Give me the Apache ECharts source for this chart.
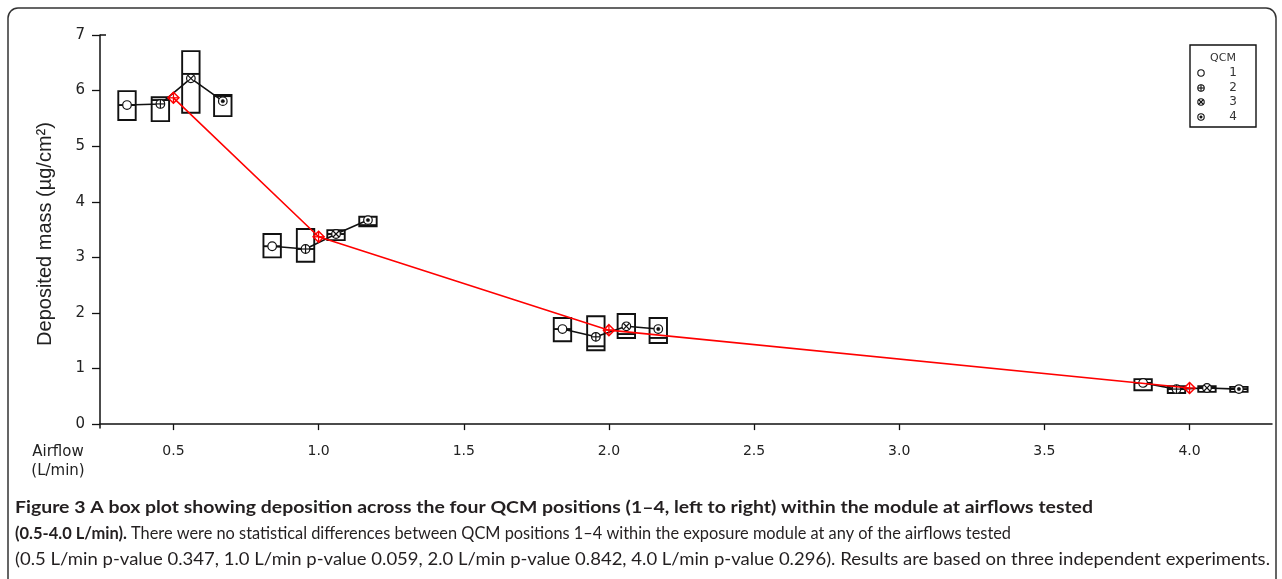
<!DOCTYPE html>
<html><head><meta charset="utf-8">
<script src="https://cdn.jsdelivr.net/npm/echarts@6/dist/echarts.min.js"></script>
<style>html,body{margin:0;padding:0;background:#fff}#c{width:1282px;height:579px}</style>
</head><body><div id="c"></div>
<script>
// ---- data ----
const airflows = [0.5, 1.0, 2.0, 4.0];
const qcmNames = ['1', '2', '3', '4'];
const qcmOffset = [-0.16, -0.045, 0.06, 0.17];
// rows: airflow 0.5, 1.0, 2.0, 4.0 ; columns: QCM 1..4
const q1Values = [
  [5.47, 5.45, 5.60, 5.54],
  [3.00, 2.92, 3.31, 3.56],
  [1.49, 1.33, 1.55, 1.46],
  [0.61, 0.56, 0.58, 0.58]
];
const q3Values = [
  [5.99, 5.88, 6.71, 5.92],
  [3.42, 3.51, 3.49, 3.73],
  [1.91, 1.94, 1.98, 1.91],
  [0.81, 0.68, 0.68, 0.67]
];
const medianValues = [
  [5.74, 5.83, 6.30, 5.90],
  [3.20, 3.15, 3.42, 3.58],
  [1.71, 1.40, 1.62, 1.55],
  [0.74, 0.63, 0.65, 0.63]
];
const meanValues = [
  [5.74, 5.76, 6.22, 5.81],
  [3.20, 3.15, 3.42, 3.67],
  [1.71, 1.57, 1.76, 1.71],
  [0.74, 0.63, 0.65, 0.63]
];
const overallMeans = [5.87, 3.37, 1.69, 0.65];
const xTicks = [0.5, 1.0, 1.5, 2.0, 2.5, 3.0, 3.5, 4.0];
const yTicks = [0, 1, 2, 3, 4, 5, 6, 7];
const captionLine1 = 'Figure 3 A box plot showing deposition across the four QCM positions (1–4, left to right) within the module at airflows tested';
const captionLine2Bold = '(0.5-4.0 L/min).';
const captionLine2 = 'There were no statistical differences between QCM positions 1–4 within the exposure module at any of the airflows tested';
const captionLine3 = '(0.5 L/min p-value 0.347, 1.0 L/min p-value 0.059, 2.0 L/min p-value 0.842, 4.0 L/min p-value 0.296). Results are based on three independent experiments.';

// ---- drawing helpers ----
const INK = '#111';
function markerShapes(kind, cx, cy, r, color, lw) {
  const els = [{ type: 'circle', shape: { cx, cy, r }, style: { stroke: color, fill: '#fff', lineWidth: lw } }];
  if (kind === 1) {
    els.push({ type: 'line', shape: { x1: cx - r, y1: cy, x2: cx + r, y2: cy }, style: { stroke: color, lineWidth: lw } });
    els.push({ type: 'line', shape: { x1: cx, y1: cy - r, x2: cx, y2: cy + r }, style: { stroke: color, lineWidth: lw } });
  } else if (kind === 2) {
    const d = r * 0.707;
    els.push({ type: 'line', shape: { x1: cx - d, y1: cy - d, x2: cx + d, y2: cy + d }, style: { stroke: color, lineWidth: lw } });
    els.push({ type: 'line', shape: { x1: cx - d, y1: cy + d, x2: cx + d, y2: cy - d }, style: { stroke: color, lineWidth: lw } });
  } else if (kind === 3) {
    els.push({ type: 'circle', shape: { cx, cy, r: r * 0.4 }, style: { fill: color, stroke: color, lineWidth: 0.5 } });
  }
  return els;
}
const measureCtx = document.createElement('canvas').getContext('2d');
function textWidth(font, text) { measureCtx.font = font; return measureCtx.measureText(text).width; }
function fittedText(text, font, x, y, targetW) {
  const s = targetW / textWidth(font, text);
  return { type: 'text', x, y, scaleX: s, style: { text, font, fill: '#231f20', verticalAlign: 'middle' } };
}

const series = [];
// connecting lines of the QCM means inside each airflow
airflows.forEach((a, i) => {
  series.push({
    type: 'line', z: 2, silent: true, symbol: 'none',
    lineStyle: { color: INK, width: 1.6 },
    data: qcmNames.map((q, k) => [a + qcmOffset[k], meanValues[i][k]])
  });
});
// boxes per QCM
qcmNames.forEach((q, k) => {
  series.push({
    type: 'custom', name: q, z: 3,
    encode: { x: 0, y: [1, 2, 3, 4] },
    data: airflows.map((a, i) => [a + qcmOffset[k], q1Values[i][k], q3Values[i][k], medianValues[i][k], meanValues[i][k]]),
    renderItem: function (params, api) {
      const x = api.value(0);
      const p1 = api.coord([x, api.value(1)]);
      const p3 = api.coord([x, api.value(2)]);
      const pmed = api.coord([x, api.value(3)]);
      const pmean = api.coord([x, api.value(4)]);
      const w = api.size([0.06, 0])[0];
      const children = [
        { type: 'rect', shape: { x: p1[0] - w / 2, y: p3[1], width: w, height: p1[1] - p3[1] }, style: { stroke: INK, fill: 'none', lineWidth: 1.9 } },
        { type: 'line', shape: { x1: p1[0] - w / 2, y1: pmed[1], x2: p1[0] + w / 2, y2: pmed[1] }, style: { stroke: INK, lineWidth: 1.9 } }
      ].concat(markerShapes(k, pmean[0], pmean[1], 4.3, INK, 1.2));
      return { type: 'group', children };
    }
  });
});
// overall mean line
series.push({
  type: 'line', z: 5, silent: true, showSymbol: false,
  lineStyle: { color: '#ff0000', width: 1.6 },
  data: airflows.map((a, i) => [a, overallMeans[i]])
});
series.push({
  type: 'custom', z: 6, silent: true,
  data: airflows.map((a, i) => [a, overallMeans[i]]),
  renderItem: function (params, api) {
    const p = api.coord([api.value(0), api.value(1)]);
    const h = 5.5;
    return {
      type: 'group', children: [
        { type: 'polygon', shape: { points: [[p[0], p[1] - h], [p[0] + h, p[1]], [p[0], p[1] + h], [p[0] - h, p[1]]] }, style: { stroke: '#ff0000', fill: 'none', lineWidth: 1.5 } },
        { type: 'line', shape: { x1: p[0] - h, y1: p[1], x2: p[0] + h, y2: p[1] }, style: { stroke: '#ff0000', lineWidth: 1.3 } },
        { type: 'line', shape: { x1: p[0], y1: p[1] - h, x2: p[0], y2: p[1] + h }, style: { stroke: '#ff0000', lineWidth: 1.3 } }
      ]
    };
  }
});

// legend (drawn)
const legendEls = [
  { type: 'rect', shape: { x: 1190, y: 45, width: 66, height: 82 }, style: { stroke: INK, fill: '#fff', lineWidth: 1.4 } },
  { type: 'text', x: 1223, y: 58, style: { text: 'QCM', font: '11px "DejaVu Sans"', fill: '#333', align: 'center', verticalAlign: 'middle' } }
];
const legendRowsY = [73, 88, 102, 117];
qcmNames.forEach((q, k) => {
  legendEls.push(...markerShapes(k, 1201, legendRowsY[k], 3.2, INK, 1.1));
  legendEls.push({ type: 'text', x: 1233, y: legendRowsY[k], style: { text: q, font: '12px "DejaVu Sans"', fill: '#333', align: 'center', verticalAlign: 'middle' } });
});

const capB = 'bold 17px Lato';
const capR = '17px Lato';
const option = {
  animation: false,
  backgroundColor: '#fff',
  grid: { left: 100, right: 10, top: 35, bottom: 151 },
  xAxis: {
    type: 'value', min: 0.247, max: 4.284,
    axisLine: { show: true, lineStyle: { color: INK, width: 1.5 } },
    axisTick: { show: true, customValues: xTicks, length: 6, lineStyle: { color: INK, width: 1.3 } },
    axisLabel: { customValues: xTicks, formatter: v => v.toFixed(1), fontFamily: 'DejaVu Sans', fontSize: 14, color: '#222', margin: 16 },
    splitLine: { show: false }
  },
  yAxis: {
    type: 'value', min: -0.07, max: 7,
    axisLine: { show: true, lineStyle: { color: INK, width: 1.5 } },
    axisTick: { show: true, customValues: yTicks, length: 8, lineStyle: { color: INK, width: 1.3 } },
    axisLabel: { customValues: yTicks, formatter: v => String(Math.round(v)), fontFamily: 'DejaVu Sans', fontSize: 15, color: '#222', margin: 15 },
    splitLine: { show: false }
  },
  series,
  graphic: [
    { type: 'rect', shape: { x: 8, y: 8, width: 1268, height: 585, r: 10 }, style: { stroke: '#333', fill: 'none', lineWidth: 1.5 }, silent: true },
    { type: 'line', shape: { x1: 100, y1: 35, x2: 106, y2: 35 }, style: { stroke: INK, lineWidth: 1.5 } },
    { type: 'text', x: 45, y: 234, rotation: Math.PI / 2, style: { text: 'Deposited mass (µg/cm²)', font: '20px "Liberation Sans"', fill: '#222', align: 'center', verticalAlign: 'middle' } },
    { type: 'text', x: 58, y: 452, style: { text: 'Airflow', font: '15px "DejaVu Sans"', fill: '#222', align: 'center', verticalAlign: 'middle' } },
    { type: 'text', x: 58, y: 471, style: { text: '(L/min)', font: '15px "DejaVu Sans"', fill: '#222', align: 'center', verticalAlign: 'middle' } },
    fittedText(captionLine1, capB, 15, 508, 1078),
    fittedText(captionLine2Bold, capB, 15, 534, 112),
    fittedText(captionLine2, capR, 131, 534, 880),
    fittedText(captionLine3, capR, 15, 560, 1255),
    ...legendEls
  ]
};
const chart = echarts.init(document.getElementById('c'));
chart.setOption(option);
</script>
</body></html>
